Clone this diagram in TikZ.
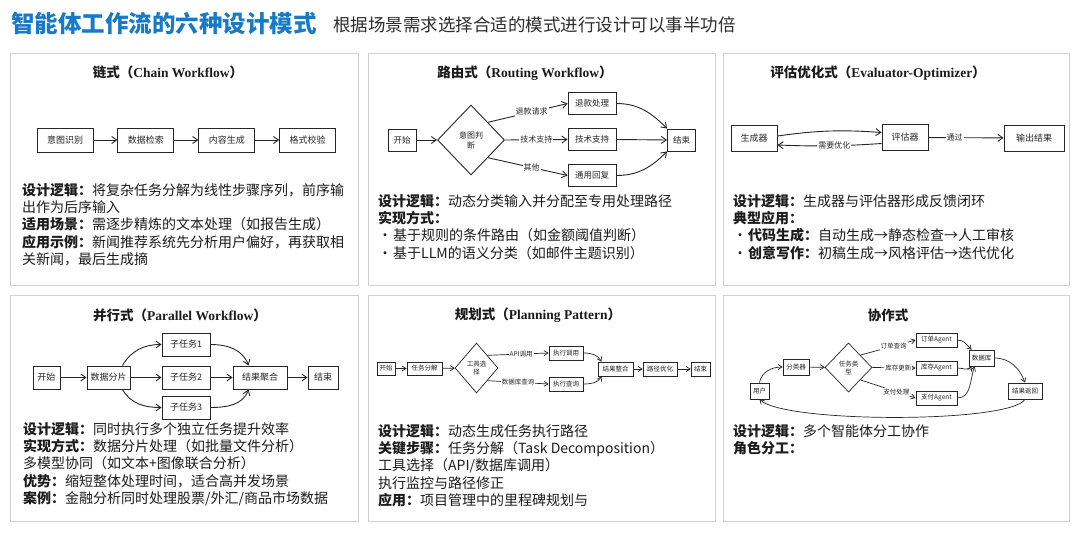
\documentclass[tikz,border=0pt]{standalone}
\usepackage{fontspec}
\setmainfont{Noto Sans CJK SC}
\newfontfamily\latserif{Liberation Serif}
\usetikzlibrary{
  arrows.meta,
  positioning,
  shapes.geometric
}
\definecolor{TitleBlue}{RGB}{24,122,198}
\definecolor{SubGray}{RGB}{45,45,45}
\definecolor{InkGray}{RGB}{38,38,38}
\definecolor{FrameGray}{RGB}{208,208,208}
\definecolor{BodyBlack}{RGB}{28,28,28}
\newcommand{\ptitle}[2]{{\bfseries #1（}{\latserif\bfseries #2}{\bfseries ）}}
\newcommand{\lbl}[1]{{\bfseries #1：}}
\newcommand{\bul}{\makebox[15pt][l]{•}}
\tikzset{
  panel/.style={draw=FrameGray,fill=white,line width=1pt},
  paneltitle/.style={font=\fontsize{13.5}{16}\selectfont,text=BodyBlack,inner sep=0pt},
  bodytext/.style={anchor=north west,align=left,inner sep=0pt,font=\fontsize{14}{17.3}\selectfont,text=BodyBlack},
  flowbox/.style={draw=InkGray,fill=white,line width=0.9pt,inner sep=0pt,minimum width=56pt,minimum height=24pt,font=\fontsize{9}{10}\selectfont,text=InkGray},
  midbox/.style={flowbox,minimum width=48pt,minimum height=22pt,font=\fontsize{8.5}{10}\selectfont},
  tinybox/.style={flowbox,line width=0.7pt,minimum width=34pt,minimum height=14pt,font=\fontsize{6.5}{7}\selectfont},
  decision/.style={diamond,draw=InkGray,fill=white,line width=0.9pt,inner sep=0pt,align=center,text=InkGray},
  flow/.style={-{Straight Barb[length=5pt,width=7pt]},draw=InkGray,line width=0.9pt},
  thinflow/.style={-{Straight Barb[length=4pt,width=5pt]},draw=InkGray,line width=0.7pt},
  edgetag/.style={fill=white,inner sep=1pt,text=InkGray,font=\fontsize{8}{9}\selectfont},
  tinytag/.style={edgetag,font=\fontsize{6.5}{7}\selectfont}
}
\begin{document}
\begin{tikzpicture}[x=1pt,y=-1pt,node distance=24pt]
\useasboundingbox (0,0) rectangle (1080,535);
\fill[white] (0,0) rectangle (1080,535);

% header
\node[anchor=west,inner sep=0pt,text=TitleBlue,font=\fontsize{23.5}{26}\selectfont\bfseries] (maintitle) at (11,24) {智能体工作流的六种设计模式};
\node[anchor=west,inner sep=0pt,text=SubGray,font=\fontsize{17.5}{20}\selectfont] (subtitle) at (333,25) {根据场景需求选择合适的模式进行设计可以事半功倍};

% frames
\draw[panel] (10,54) rectangle (358,285);
\draw[panel] (368,54) rectangle (715,285);
\draw[panel] (723,54) rectangle (1069,285);
\draw[panel] (10,295) rectangle (358,521);
\draw[panel] (368,295) rectangle (715,521);
\draw[panel] (723,295) rectangle (1069,521);

% chain
\node[paneltitle] (t1) at (168,72) {\ptitle{链式}{Chain Workflow}};
\node[flowbox] (intent) at (65,140) {意图识别};
\node[flowbox, right=of intent] (retrieve) {数据检索};
\node[flowbox, right=of retrieve] (compose) {内容生成};
\node[flowbox, right=of compose] (verify) {格式校验};
\draw[flow] (intent) -- (retrieve);
\draw[flow] (retrieve) -- (compose);
\draw[flow] (compose) -- (verify);
\node[bodytext] (b1) at (22,183) {\lbl{设计逻辑}将复杂任务分解为线性步骤序列，前序输\\出作为后序输入\\\lbl{适用场景}需逐步精炼的文本处理（如报告生成）\\\lbl{应用示例}新闻推荐系统先分析用户偏好，再获取相\\关新闻，最后生成摘};

% routing
\node[paneltitle] (t2) at (525,73) {\ptitle{路由式}{Routing Workflow}};
\node[midbox,minimum width=28pt] (rstart) at (402,140) {开始};
\node[decision,minimum width=67pt,minimum height=70pt,font=\fontsize{8}{10}\selectfont] (rjudge) at (471,140) {意图判\\断};
\node[midbox] (refund) at (592,103.5) {退款处理};
\node[midbox] (support) at (592,139.5) {技术支持};
\node[midbox] (general) at (592,175.5) {通用回复};
\node[midbox,minimum width=28pt] (rend) at (681.5,140) {结束};
\draw[flow] (rstart) -- (rjudge);
\draw[flow] (rjudge.north east) -- node[edgetag,pos=0.55]{退款请求} (refund.west);
\draw[flow] (rjudge.east) -- node[edgetag,pos=0.5]{技术支持} (support.west);
\draw[flow] (rjudge.south east) -- node[edgetag,pos=0.55]{其他} (general.west);
\draw[flow] (refund.east) to[out=0,in=135] (rend.north west);
\draw[flow] (support.east) -- (rend.west);
\draw[flow] (general.east) to[out=0,in=-135] (rend.south west);
\node[bodytext] (b2) at (378,194) {\lbl{设计逻辑}动态分类输入并分配至专用处理路径\\{\bfseries 实现方式：}\\\bul 基于规则的条件路由（如金额阈值判断）\\\bul 基于LLM的语义分类（如邮件主题识别）};

% evaluator
\node[paneltitle] (t3) at (878,73) {\ptitle{评估优化式}{Evaluator-Optimizer}};
\node[flowbox,minimum width=46pt,minimum height=26pt] (generator) at (754,138) {生成器};
\node[flowbox,minimum width=46pt,minimum height=26pt] (evaluator) at (905,137.5) {评估器};
\node[flowbox,minimum width=60pt,minimum height=26pt] (output) at (1034,138) {输出结果};
\draw[flow] ([yshift=2pt]generator.east) to[bend left=6] ([yshift=5pt]evaluator.west);
\draw[flow] ([yshift=-6pt]evaluator.west) to[bend left=3] node[edgetag,pos=0.45]{需要优化} ([yshift=-7pt]generator.east);
\draw[flow] (evaluator) -- node[edgetag,pos=0.35]{通过} (output);
\node[bodytext] (b3) at (733,194) {\lbl{设计逻辑}生成器与评估器形成反馈闭环\\{\bfseries 典型应用：}\\\bul\lbl{代码生成}自动生成→静态检查→人工审核\\\bul\lbl{创意写作}初稿生成→风格评估→迭代优化};

% parallel
\node[paneltitle] (t4) at (180,315) {\ptitle{并行式}{Parallel Workflow}};
\node[flowbox,minimum width=27pt,minimum height=23pt] (pstart) at (46.5,377.5) {开始};
\node[flowbox,minimum width=43pt,minimum height=23pt] (shard) at (108.5,377.5) {数据分片};
\node[flowbox,minimum width=48pt,minimum height=23pt] (sub1) at (186,344.5) {子任务1};
\node[flowbox,minimum width=48pt,minimum height=23pt] (sub2) at (186,377.5) {子任务2};
\node[flowbox,minimum width=48pt,minimum height=23pt] (sub3) at (186,407.5) {子任务3};
\node[flowbox,minimum width=54pt,minimum height=23pt] (merge) at (260,377.5) {结果聚合};
\node[flowbox,minimum width=30pt,minimum height=23pt] (pend) at (323,377.5) {结束};
\draw[flow] (pstart) -- (shard);
\draw[flow] ([xshift=-8pt]shard.north east) to[out=60,in=180] (sub1.west);
\draw[flow] (shard) -- (sub2);
\draw[flow] ([xshift=-8pt]shard.south east) to[out=-60,in=180] (sub3.west);
\draw[flow] (sub1.east) to[out=0,in=110] ([xshift=16pt]merge.north west);
\draw[flow] (sub2) -- (merge);
\draw[flow] (sub3.east) to[out=0,in=-110] ([xshift=16pt]merge.south west);
\draw[flow] (merge) -- (pend);
\node[bodytext] (b4) at (23,422) {\lbl{设计逻辑}同时执行多个独立任务提升效率\\\lbl{实现方式}数据分片处理（如批量文件分析）\\多模型协同（如文本+图像联合分析）\\\lbl{优势}缩短整体处理时间，适合高并发场景\\\lbl{案例}金融分析同时处理股票/外汇/商品市场数据};

% planning
\node[paneltitle] (t5) at (538,315) {\ptitle{规划式}{Planning Pattern}};
\node[tinybox,minimum width=18pt,minimum height=13pt] (sstart) at (386,368.5) {开始};
\node[tinybox,minimum width=35pt,minimum height=13pt] (split) at (424.5,368.5) {任务分解};
\node[decision,minimum width=43pt,minimum height=50pt,line width=0.7pt,font=\fontsize{6.5}{8}\selectfont] (tool) at (476.5,368) {工具选\\择};
\node[tinybox] (callapi) at (566,353) {执行调用};
\node[tinybox] (query) at (566,384) {执行查询};
\node[tinybox,minimum width=35pt] (combine) at (615.5,369) {结果整合};
\node[tinybox] (refine) at (660,369) {路径优化};
\node[tinybox,minimum width=19pt] (send) at (700.5,369) {结束};
\draw[thinflow] (sstart) -- (split);
\draw[thinflow] (split) -- (tool);
\draw[thinflow] (tool.north east) -- node[tinytag,pos=0.55]{API调用} (callapi.west);
\draw[thinflow] (tool.south east) -- node[tinytag,pos=0.5]{数据库查询} (query.west);
\draw[thinflow] (callapi.east) to[out=0,in=120] ([xshift=4pt]combine.north west);
\draw[thinflow] (query.east) to[out=0,in=-120] ([xshift=4pt]combine.south west);
\draw[thinflow] (combine) -- (refine);
\draw[thinflow] (refine) -- (send);
\node[bodytext] (b5) at (378,424) {\lbl{设计逻辑}动态生成任务执行路径\\\lbl{关键步骤}任务分解（Task Decomposition）\\工具选择（API/数据库调用）\\执行监控与路径修正\\\lbl{应用}项目管理中的里程碑规划与};

% collaboration
\node[paneltitle] (t6) at (888,315) {{\bfseries 协作式}};
\node[tinybox,minimum width=19pt,minimum height=16pt] (user) at (759.5,391) {用户};
\node[tinybox,minimum width=26pt,minimum height=16pt] (classifier) at (796,367) {分类器};
\node[decision,minimum width=47pt,minimum height=49pt,line width=0.7pt,font=\fontsize{6.5}{8}\selectfont] (kind) at (848.5,367.5) {任务类\\型};
\node[tinybox,minimum width=41pt] (order) at (936.5,340) {订单Agent};
\node[tinybox,minimum width=41pt] (stock) at (936.5,368) {库存Agent};
\node[tinybox,minimum width=41pt] (pay) at (936.5,398) {支付Agent};
\node[tinybox,minimum width=25pt,minimum height=16pt] (db) at (981.5,358) {数据库};
\node[tinybox,minimum width=34pt,minimum height=16pt] (reply) at (1025,391) {结果返回};
\draw[thinflow] (user.north) to[out=80,in=180] (classifier.west);
\draw[thinflow] (classifier) -- (kind);
\draw[thinflow] (kind.north east) -- node[tinytag,pos=0.6]{订单查询} (order.west);
\draw[thinflow] (kind.east) -- node[tinytag,pos=0.6]{库存更新} (stock.west);
\draw[thinflow] (kind.south east) -- node[tinytag,pos=0.65]{支付处理} (pay.west);
\draw[thinflow] (order.east) to[out=0,in=135] ([xshift=3pt]db.north west);
\draw[thinflow] (stock.east) to[out=0,in=-120] ([xshift=3pt]db.south west);
\draw[thinflow] (pay.east) to[out=0,in=-110] ([xshift=6pt]db.south west);
\draw[thinflow] (db.east) to[out=0,in=110] (reply.north);
\draw[thinflow] (reply.south) .. controls ([xshift=-15pt,yshift=-24pt]reply.south) and ([xshift=25pt,yshift=-24pt]user.south) .. (user.south);
\node[bodytext] (b6) at (733,424) {\lbl{设计逻辑}多个智能体分工协作\\{\bfseries 角色分工：}};
\end{tikzpicture}
\end{document}
